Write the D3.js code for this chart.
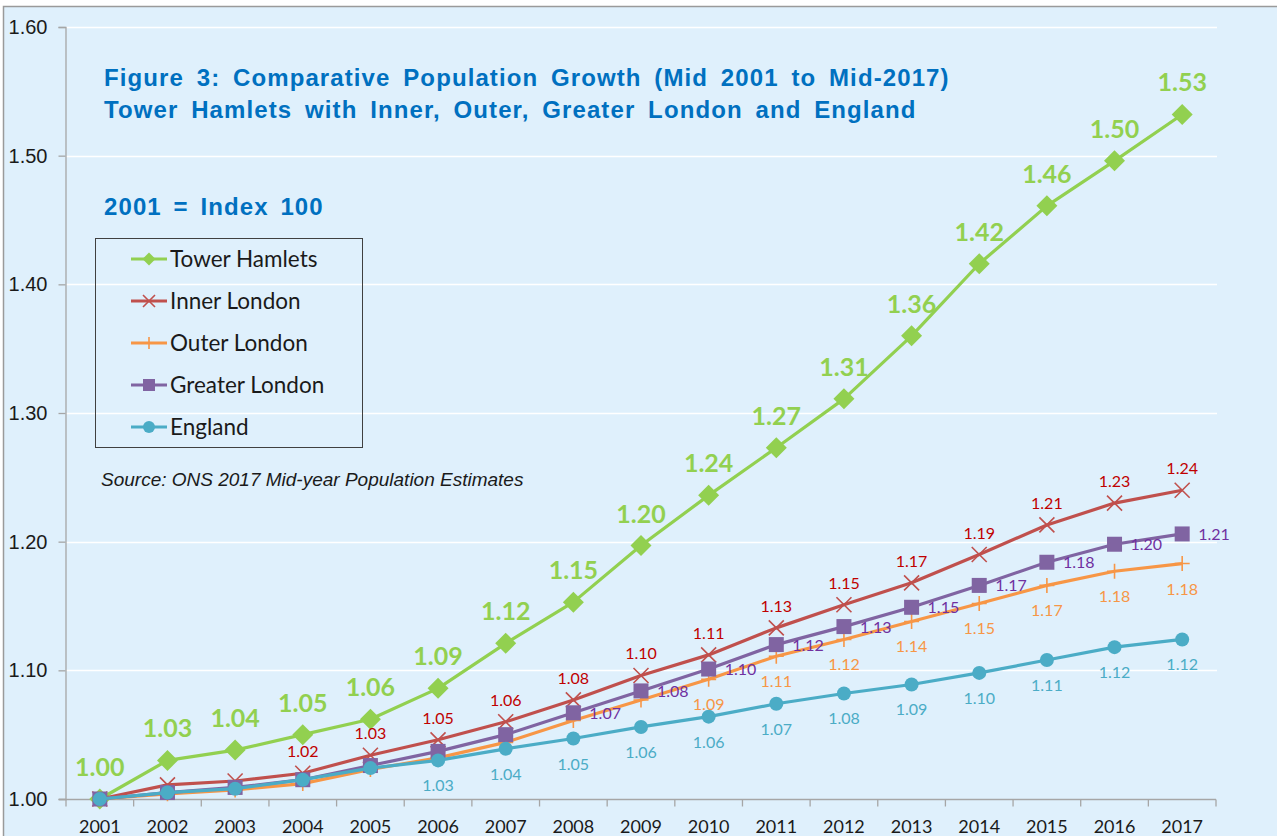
<!doctype html>
<html>
<head>
<meta charset="UTF-8">
<title>Comparative Population Growth</title>
<script src="https://d3js.org/d3.v7.min.js"></script>
<style>
  body { margin: 0; background: #fff; }
  svg text { font-family: Lato, sans-serif; }
</style>
</head>
<body>
<svg id="chart" width="1277" height="836"></svg>
<script>
// chart data
var years = ["2001","2002","2003","2004","2005","2006","2007","2008","2009","2010","2011","2012","2013","2014","2015","2016","2017"];
var towerHamlets = [1.000,1.030,1.038,1.050,1.062,1.086,1.121,1.153,1.197,1.236,1.273,1.311,1.360,1.416,1.461,1.496,1.532];
var innerLondon  = [1.000,1.011,1.014,1.020,1.034,1.046,1.060,1.077,1.096,1.112,1.133,1.151,1.168,1.190,1.213,1.230,1.240];
var outerLondon  = [1.000,1.004,1.007,1.012,1.023,1.032,1.044,1.061,1.077,1.093,1.111,1.124,1.138,1.152,1.166,1.177,1.183];
var greaterLondon= [1.000,1.005,1.009,1.015,1.026,1.037,1.050,1.067,1.084,1.101,1.120,1.134,1.149,1.166,1.184,1.198,1.206];
var england      = [1.000,1.005,1.008,1.015,1.024,1.030,1.039,1.047,1.056,1.064,1.074,1.082,1.089,1.098,1.108,1.118,1.124];
var yTicks = [1.00,1.10,1.20,1.30,1.40,1.50,1.60];

// series in draw order; first year that carries a data label
var series = [
  {name: "Tower Hamlets", values: towerHamlets, color: "#92D050", label: "#92D050", marker: "diamond", from: "2001", pos: "top"},
  {name: "Inner London", values: innerLondon, color: "#C0504D", label: "#C00000", marker: "x", from: "2004", pos: "top"},
  {name: "Outer London", values: outerLondon, color: "#F79646", label: "#F79646", marker: "plus", from: "2010", pos: "bottom"},
  {name: "Greater London", values: greaterLondon, color: "#8064A2", label: "#7030A0", marker: "square", from: "2008", pos: "right"},
  {name: "England", values: england, color: "#4BACC6", label: "#4BACC6", marker: "circle", from: "2006", pos: "bottom"}
];

var svg = d3.select("#chart");

svg.append("rect")
    .attr("x", 3.5).attr("y", 6.5)
    .attr("width", 1280).attr("height", 840)
    .attr("fill", "#DFF0FC")
    .attr("stroke", "#9A9A9A")
    .attr("stroke-width", 1.5);

var plotLeft = 66, plotRight = 1216, plotTop = 27, plotBottom = 799;

var x = d3.scaleBand().domain(years).range([plotLeft, plotRight]);
var y = d3.scaleLinear().domain([1.0, 1.6]).range([plotBottom, plotTop]);
function cx(d) { return x(d) + x.bandwidth() / 2; }

// gridlines
svg.append("g").selectAll("line")
    .data(yTicks.slice(1))
    .join("line")
    .attr("x1", plotLeft).attr("x2", plotRight + 1)
    .attr("y1", function(d) { return Math.round(y(d)) + 0.5; })
    .attr("y2", function(d) { return Math.round(y(d)) + 0.5; })
    .attr("stroke", "#FFFFFF")
    .attr("stroke-width", 1.5);

// y axis
var yAxis = svg.append("g")
    .attr("transform", "translate(" + (plotLeft - 0.5) + ",0)")
    .call(d3.axisLeft(y).tickValues(yTicks).tickFormat(d3.format(".2f")).tickSizeOuter(0).tickSize(7).tickPadding(11));
yAxis.select(".domain").attr("stroke", "#A6A6A6").attr("stroke-width", 1.3);
yAxis.selectAll(".tick line").attr("stroke", "#A6A6A6").attr("stroke-width", 1.3);
yAxis.selectAll("text")
    .style("font-family", "Liberation Sans, Arial, sans-serif")
    .attr("font-size", 20)
    .attr("fill", "#1a1a1a");

// x axis, ticks between categories
var xAxis = svg.append("g").attr("transform", "translate(0," + (plotBottom + 0.5) + ")");
xAxis.append("line")
    .attr("x1", plotLeft - 7).attr("x2", plotRight)
    .attr("stroke", "#A6A6A6").attr("stroke-width", 1.3);
xAxis.selectAll("line.tk")
    .data(years.concat(["end"]))
    .join("line")
    .attr("class", "tk")
    .attr("x1", function(d, i) { return plotLeft + i * x.bandwidth(); })
    .attr("x2", function(d, i) { return plotLeft + i * x.bandwidth(); })
    .attr("y1", 0).attr("y2", 7)
    .attr("stroke", "#A6A6A6").attr("stroke-width", 1.3);
xAxis.selectAll("text")
    .data(years)
    .join("text")
    .attr("x", cx)
    .attr("y", 33)
    .attr("text-anchor", "middle")
    .attr("font-size", 18)
    .attr("fill", "#1a1a1a")
    .text(function(d) { return d; });

// markers
function drawMarker(g, type, color, s) {
  if (type === "diamond") {
    g.append("path").attr("d", "M0," + (-s) + "L" + s + ",0L0," + s + "L" + (-s) + ",0Z").attr("fill", color);
  } else if (type === "square") {
    g.append("rect").attr("x", -s).attr("y", -s).attr("width", 2 * s).attr("height", 2 * s).attr("fill", color);
  } else if (type === "circle") {
    g.append("circle").attr("r", s).attr("fill", color);
  } else if (type === "x") {
    g.append("path").attr("d", "M" + (-s) + "," + (-s) + "L" + s + "," + s + "M" + (-s) + "," + s + "L" + s + "," + (-s))
      .attr("stroke", color).attr("stroke-width", 1.6).attr("fill", "none");
  } else if (type === "plus") {
    g.append("path").attr("d", "M0," + (-s) + "L0," + s + "M" + (-s) + ",0L" + s + ",0")
      .attr("stroke", color).attr("stroke-width", 1.6).attr("fill", "none");
  }
}
var markerSize = {diamond: 10.5, square: 7.5, circle: 7, x: 7.5, plus: 7.5};

var line = d3.line()
    .x(function(d, i) { return cx(years[i]); })
    .y(function(d) { return y(d); });

series.forEach(function(s) {
  var g = svg.append("g");
  g.append("path")
      .datum(s.values)
      .attr("d", line)
      .attr("fill", "none")
      .attr("stroke", s.color)
      .attr("stroke-width", 3.2)
      .attr("stroke-linejoin", "round");
  g.selectAll("g.m")
      .data(s.values)
      .join("g")
      .attr("class", "m")
      .attr("transform", function(d, i) { return "translate(" + cx(years[i]) + "," + y(d) + ")"; })
      .each(function() { drawMarker(d3.select(this), s.marker, s.color, markerSize[s.marker]); });
});

// data labels on top of everything
series.forEach(function(s) {
  var start = years.indexOf(s.from);
  var big = s.name === "Tower Hamlets";
  svg.append("g").selectAll("text")
      .data(s.values.map(function(v, i) { return {v: v, i: i}; }).filter(function(d) { return d.i >= start; }))
      .join("text")
      .attr("x", function(d) {
        var px = cx(years[d.i]);
        return s.pos === "right" ? px + 16 : px;
      })
      .attr("y", function(d) {
        var py = y(d.v);
        if (big) return py - 23;
        if (s.pos === "top") return py - 16;
        if (s.pos === "bottom") return py + 31;
        return py + 6;
      })
      .attr("text-anchor", s.pos === "right" ? "start" : "middle")
      .attr("font-size", big ? 25 : 16)
      .attr("font-weight", big ? "bold" : "normal")
      .attr("fill", s.label)
      .text(function(d) { return d3.format(".2f")(d.v); });
});

// titles
var title = svg.append("g")
    .attr("font-weight", "bold")
    .attr("font-size", 24)
    .attr("fill", "#0070C0");
title.append("text").attr("x", 104).attr("y", 86)
    .attr("letter-spacing", 1.1).attr("word-spacing", 5)
    .style("font-family", "Liberation Sans, Arial, sans-serif")
    .text("Figure 3: Comparative Population Growth (Mid 2001 to Mid-2017)");
title.append("text").attr("x", 104).attr("y", 118)
    .attr("letter-spacing", 1.1).attr("word-spacing", 5)
    .style("font-family", "Liberation Sans, Arial, sans-serif")
    .text("Tower Hamlets with Inner, Outer, Greater London and England");
title.append("text").attr("x", 104).attr("y", 215)
    .attr("letter-spacing", 1.1).attr("word-spacing", 4)
    .style("font-family", "Liberation Sans, Arial, sans-serif")
    .text("2001 = Index 100");

svg.append("text")
    .attr("x", 101).attr("y", 486)
    .style("font-family", "Liberation Sans, Arial, sans-serif")
    .attr("font-style", "italic")
    .attr("font-size", 19)
    .attr("fill", "#1a1a1a")
    .text("Source: ONS 2017 Mid-year Population Estimates");

// legend
var legend = svg.append("g");
legend.append("rect")
    .attr("x", 95.5).attr("y", 238.5)
    .attr("width", 267).attr("height", 209)
    .attr("fill", "none")
    .attr("stroke", "#404040")
    .attr("stroke-width", 1);
var legendMarker = {diamond: 6.5, square: 6, circle: 6, x: 6, plus: 6};
series.forEach(function(s, i) {
  var ly = 259 + i * 42;
  var g = legend.append("g").attr("transform", "translate(0," + ly + ")");
  g.append("line").attr("x1", 131).attr("x2", 167).attr("stroke", s.color).attr("stroke-width", 3);
  var m = g.append("g").attr("transform", "translate(149,0)");
  drawMarker(m, s.marker, s.color, legendMarker[s.marker]);
  g.append("text")
      .attr("x", 170).attr("y", 8)
      .attr("font-size", 22.5)
      .attr("fill", "#1a1a1a")
      .text(s.name);
});
</script>
</body>
</html>
